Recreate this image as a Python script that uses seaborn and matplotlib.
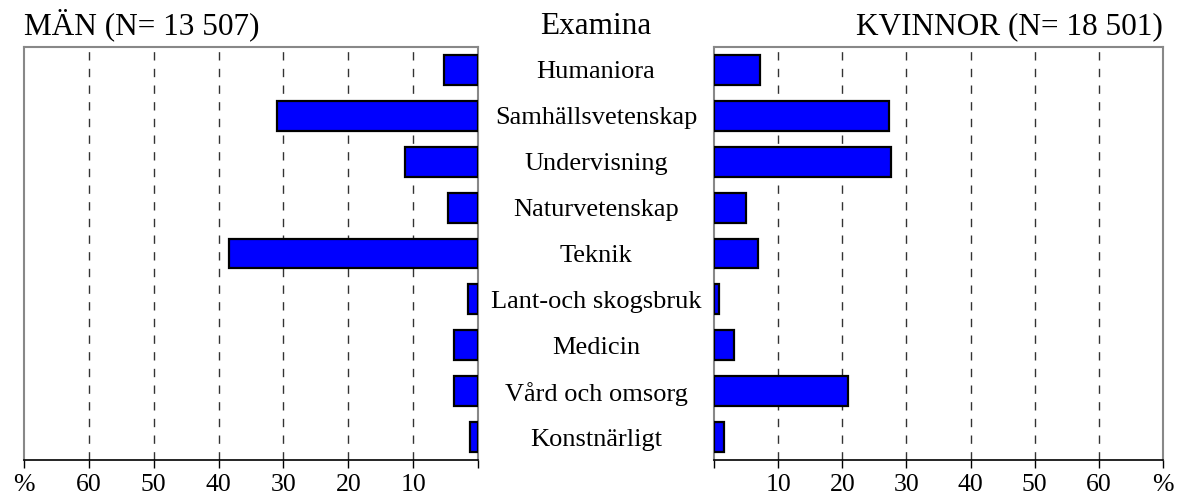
import matplotlib
matplotlib.use("Agg")
import matplotlib.pyplot as plt
import seaborn as sns
import pandas as pd

categories = ["Humaniora", "Samhällsvetenskap", "Undervisning", "Naturvetenskap",
              "Teknik", "Lant-och skogsbruk", "Medicin", "Vård och omsorg", "Konstnärligt"]
men = [5.3, 31.0, 11.2, 4.6, 38.4, 1.5, 3.7, 3.7, 1.3]
women = [7.1, 27.3, 27.6, 5.0, 6.8, 0.8, 3.1, 20.9, 1.6]
tick_values = [0, 10, 20, 30, 40, 50, 60, 70]
tick_labels = ["", "10", "20", "30", "40", "50", "60", "%"]
title_men = "MÄN (N= 13 507)"
title_women = "KVINNOR (N= 18 501)"
title_mid = "Examina"

sns.set_theme(style="white")
plt.rcParams['font.family'] = ['Liberation Serif', 'DejaVu Serif']
plt.rcParams['text.color'] = 'black'
plt.rcParams['xtick.color'] = 'black'
plt.rcParams['ytick.color'] = 'black'

df = pd.DataFrame({"cat": categories, "men": men, "women": women})

fig = plt.figure(figsize=(11.85, 4.97), dpi=100)
ax_l = fig.add_axes([24/1185, 1-460/497, (478-24)/1185, (460-47)/497])
ax_r = fig.add_axes([714/1185, 1-460/497, (1163-714)/1185, (460-47)/497])

for ax, col in ((ax_l, "men"), (ax_r, "women")):
    sns.barplot(data=df, x=col, y="cat", ax=ax, color="#0000ff", saturation=1,
                edgecolor="black", linewidth=1.6, width=0.65, zorder=3)
    ax.set_xlim(0, 70)
    ax.set_ylim(8.5, -0.5)
    ax.set_xlabel("")
    ax.set_ylabel("")
    ax.set_xticks(tick_values)
    ax.set_xticklabels(tick_labels, fontsize=18.5)
    ax.tick_params(axis="x", length=6, width=1, color="black", labelcolor="black",
                   bottom=True, pad=4)
    for v in tick_values[1:-1]:
        ax.axvline(v, color="#333333", linestyle=(0, (6, 6)), linewidth=1, zorder=1)
    for s in ("top", "left", "right"):
        ax.spines[s].set_color("#888888")
        ax.spines[s].set_linewidth(1.5)
    ax.spines["bottom"].set_color("black")
    ax.spines["bottom"].set_linewidth(1.2)
    ax.grid(False)

ax_l.invert_xaxis()
ax_l.set_yticks([])
ax_r.tick_params(axis="y", length=0, pad=85, labelcolor="black")
for lbl in ax_r.get_yticklabels():
    lbl.set_ha("center")
    lbl.set_fontsize(19)

title_pad = 9
ax_l.set_title(title_men, loc="left", fontsize=22.5, pad=title_pad, color="black")
ax_r.set_title(title_women, loc="right", fontsize=22.5, pad=title_pad, color="black")
pl = ax_l.get_position()
pr = ax_r.get_position()
fig.text((pl.x1 + pr.x0) / 2, pl.y1 + title_pad * 100 / 72 / 497, title_mid,
         ha="center", va="baseline", fontsize=22.5, color="black")

fig.savefig("out.png", dpi=100)
